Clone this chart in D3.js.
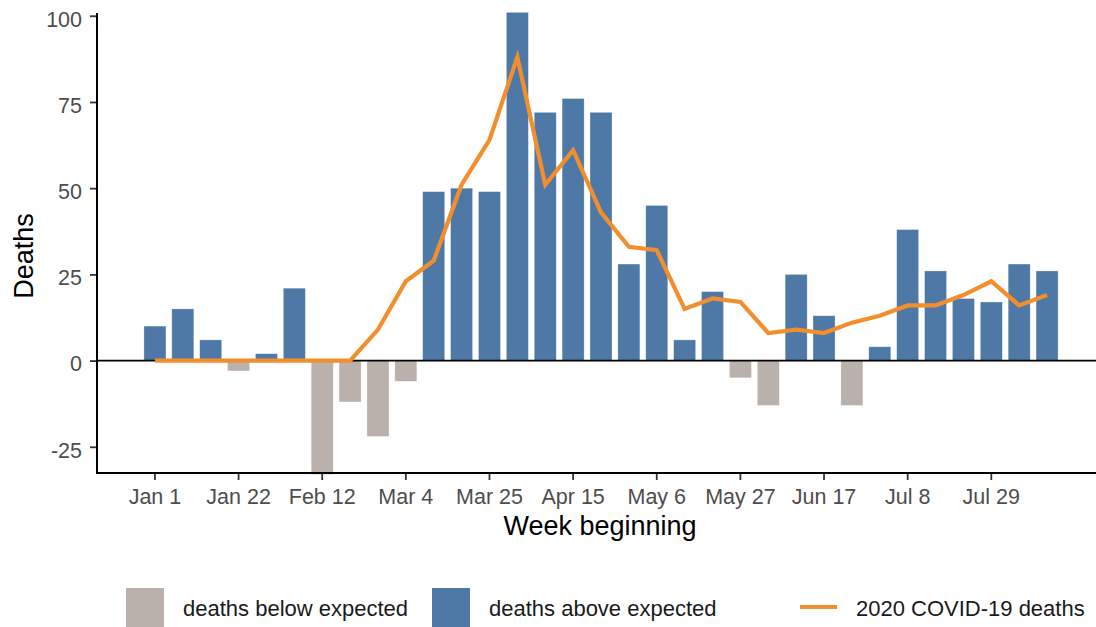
<!DOCTYPE html>
<html>
<head>
<meta charset="utf-8">
<script src="https://cdn.jsdelivr.net/npm/d3@7"></script>
<style>
  body { margin: 0; background: #fff; }
  svg { display: block; font-family: "Liberation Sans", Arial, sans-serif; }
</style>
</head>
<body>
<div class="chart"></div>
<script>
// weekly excess deaths vs 2020 covid deaths
var weeks = ["Jan 1", "Jan 8", "Jan 15", "Jan 22", "Jan 29", "Feb 5", "Feb 12", "Feb 19", "Feb 26",
  "Mar 4", "Mar 11", "Mar 18", "Mar 25", "Apr 1", "Apr 8", "Apr 15", "Apr 22", "Apr 29",
  "May 6", "May 13", "May 20", "May 27", "Jun 3", "Jun 10", "Jun 17", "Jun 24",
  "Jul 1", "Jul 8", "Jul 15", "Jul 22", "Jul 29", "Aug 5", "Aug 12"];

var excessDeaths = [10, 15, 6, -3, 2, 21, -33, -12, -22,
  -6, 49, 50, 49, 101, 72, 76, 72, 28,
  45, 6, 20, -5, -13, 25, 13, -13,
  4, 38, 26, 18, 17, 28, 26];

var covidDeaths = [0, 0, 0, 0, 0, 0, 0, 0, 9,
  23, 29, 51, 64, 88, 51, 61, 43, 33,
  32, 15, 18, 17, 8, 9, 8, 11,
  13, 16, 16, 19, 23, 16, 19];

var tickWeeks = ["Jan 1", "Jan 22", "Feb 12", "Mar 4", "Mar 25", "Apr 15", "May 6", "May 27", "Jun 17", "Jul 8", "Jul 29"];
var yTicks = [-25, 0, 25, 50, 75, 100];

var legendLabels = ["deaths below expected", "deaths above expected", "2020 COVID-19 deaths"];
var colorBelow = "#BAB0AC", colorAbove = "#4E79A7", colorLine = "#F28E2B";

var svgWidth = 1096, svgHeight = 627;
var panel = { left: 97, right: 1096, top: 13, bottom: 473 };

var svg = d3.select(".chart").append("svg")
  .attr("width", svgWidth)
  .attr("height", svgHeight);

var data = weeks.map(function(w, i) {
  return { week: w, excess: excessDeaths[i], covid: covidDeaths[i] };
});

// scales
var x = d3.scaleBand()
  .domain(weeks)
  .range([141, 1061])
  .paddingInner(0.21)
  .paddingOuter(0.105);

var y = d3.scaleLinear()
  .domain([-32.6, 100.8])
  .range([panel.bottom, panel.top]);

// bars
svg.append("g").selectAll("rect")
  .data(data)
  .enter()
  .append("rect")
  .attr("x", d => x(d.week))
  .attr("width", x.bandwidth())
  .attr("y", d => y(Math.max(0, d.excess)))
  .attr("height", d => Math.abs(y(d.excess) - y(0)))
  .attr("fill", d => d.excess < 0 ? colorBelow : colorAbove)
  .attr("stroke", "#fff")
  .attr("stroke-opacity", 0.5)
  .attr("stroke-width", 0.6);

// zero line
svg.append("line")
  .attr("x1", panel.left).attr("x2", panel.right)
  .attr("y1", y(0)).attr("y2", y(0))
  .attr("stroke", "#000")
  .attr("stroke-width", 1.6);

// covid line
var line = d3.line()
  .x(d => x(d.week) + x.bandwidth() / 2)
  .y(d => y(d.covid));

svg.append("path")
  .datum(data)
  .attr("d", line)
  .attr("fill", "none")
  .attr("stroke", colorLine)
  .attr("stroke-width", 4.2)
  .attr("stroke-linejoin", "miter");

// axes
var leftAxis = d3.axisLeft(y).tickValues(yTicks).tickFormat(d => String(d)).tickSize(7).tickPadding(8);
var bottomAxis = d3.axisBottom(x).tickValues(tickWeeks).tickSize(7).tickPadding(9);

var gy = svg.append("g")
  .attr("transform", `translate(${panel.left},0)`)
  .call(leftAxis);
gy.select(".domain").remove();
gy.selectAll("line").attr("stroke", "#333").attr("stroke-width", 1.8);
gy.selectAll("text")
  .attr("dy", "0.48em")
  .attr("fill", "#4d4d4d")
  .style("font-size", "21.5px")
  .style("font-family", "Liberation Sans, Arial, sans-serif");

var gx = svg.append("g")
  .attr("transform", `translate(0,${panel.bottom})`)
  .call(bottomAxis);
gx.select(".domain").remove();
gx.selectAll("line").attr("stroke", "#333").attr("stroke-width", 1.8);
gx.selectAll("text")
  .attr("fill", "#4d4d4d")
  .style("font-size", "21.5px")
  .style("font-family", "Liberation Sans, Arial, sans-serif");

// panel border lines (left + bottom)
svg.append("path")
  .attr("d", `M${panel.left},${panel.top}V${panel.bottom}H${panel.right}`)
  .attr("fill", "none")
  .attr("stroke", "#000")
  .attr("stroke-width", 2);

// axis titles
svg.append("text")
  .attr("transform", `translate(33, ${(panel.top + panel.bottom) / 2 + 13}) rotate(-90)`)
  .attr("text-anchor", "middle")
  .style("font-size", "27px")
  .attr("fill", "#000")
  .text("Deaths");

svg.append("text")
  .attr("x", 600)
  .attr("y", 535)
  .attr("text-anchor", "middle")
  .style("font-size", "27px")
  .attr("fill", "#000")
  .text("Week beginning");

// legend
var legend = svg.append("g").attr("class", "legend");
var swatchX = [126, 432];
[colorBelow, colorAbove].forEach(function(c, i) {
  legend.append("rect")
    .attr("x", swatchX[i]).attr("y", 588)
    .attr("width", 38).attr("height", 39)
    .attr("fill", c);
  legend.append("text")
    .attr("x", swatchX[i] + 57).attr("y", 616)
    .style("font-size", "22px")
    .attr("fill", "#1a1a1a")
    .text(legendLabels[i]);
});
legend.append("line")
  .attr("x1", 800).attr("x2", 837)
  .attr("y1", 607).attr("y2", 607)
  .attr("stroke", colorLine)
  .attr("stroke-width", 4);
legend.append("text")
  .attr("x", 856).attr("y", 616)
  .style("font-size", "22px")
  .attr("fill", "#1a1a1a")
  .text(legendLabels[2]);
</script>
</body>
</html>
